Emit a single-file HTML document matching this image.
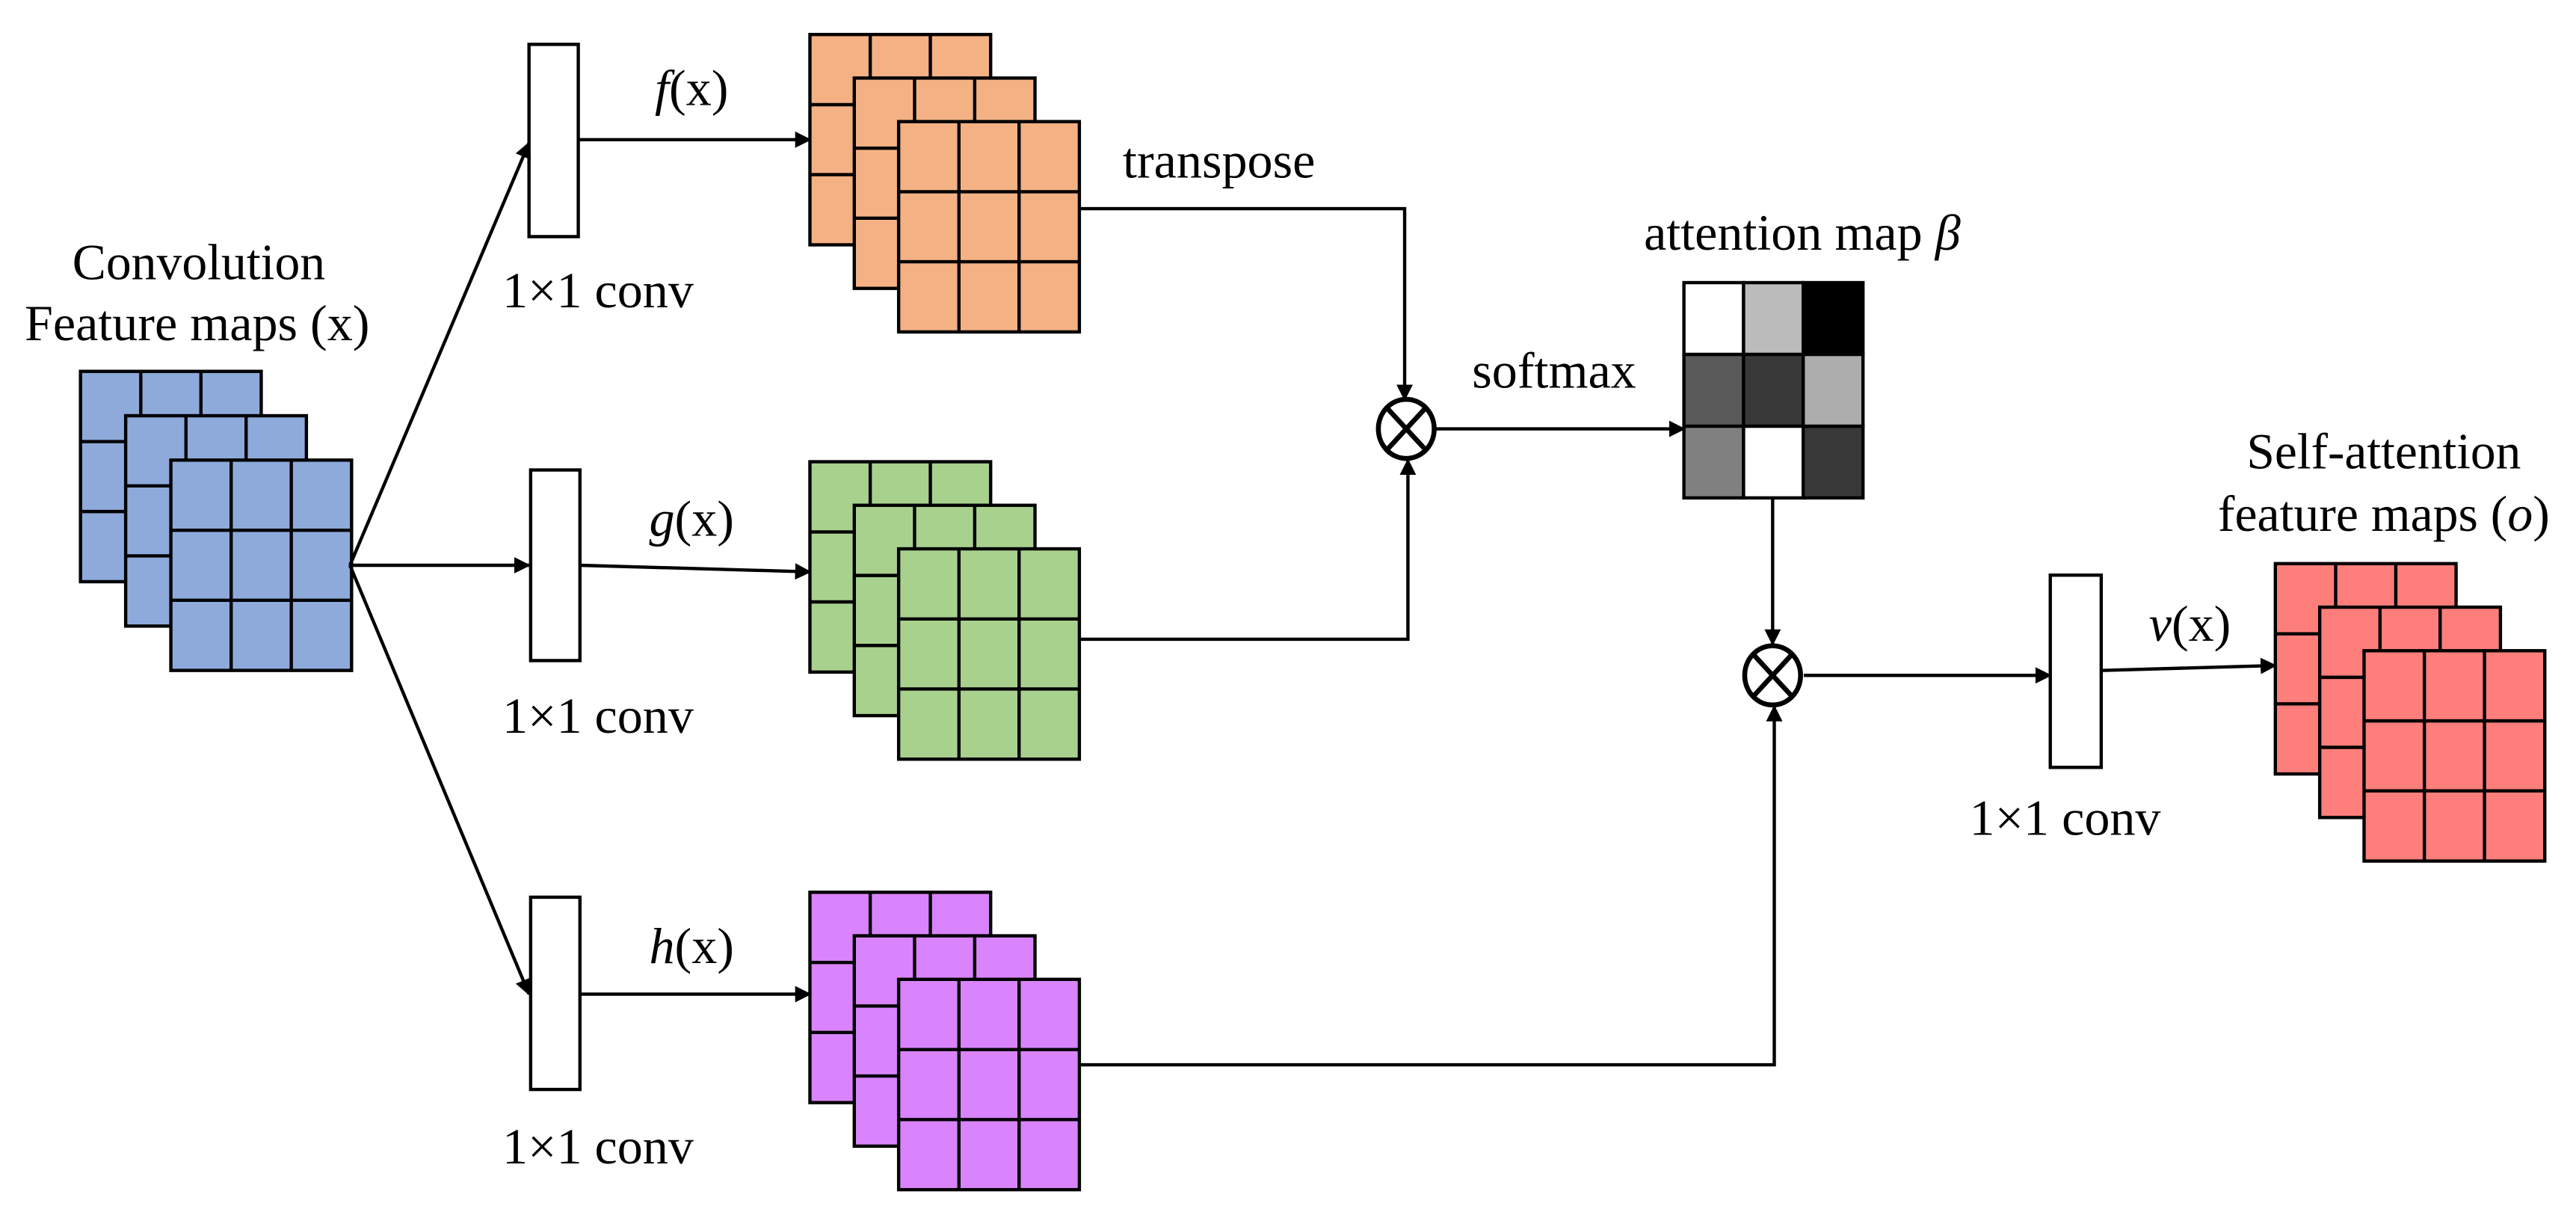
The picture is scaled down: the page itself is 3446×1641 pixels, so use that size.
<!DOCTYPE html>
<html><head><meta charset="utf-8"><style>html,body{margin:0;padding:0;background:#fff}svg{display:block}text{font-family:"Liberation Serif",serif;fill:#000}</style></head><body>
<svg width="3446" height="1641" viewBox="0 0 1568 746.7" preserveAspectRatio="none" xmlns="http://www.w3.org/2000/svg">
<defs>
<marker id="a" markerWidth="10" markerHeight="10" refX="9" refY="5" orient="auto" markerUnits="userSpaceOnUse"><path d="M0,0 L10,5 L0,10 z" fill="#000"/></marker>
<g id="grid"><rect x="0" y="0" width="110" height="128" stroke="#000" stroke-width="2"/><path d="M36.7,0V128M73.3,0V128M0,42.7H110M0,85.3H110" stroke="#000" stroke-width="2" fill="none"/></g>
</defs>
<g fill="#8eaadb"><use href="#grid" x="49" y="226"/><use href="#grid" x="76.5" y="253"/><use href="#grid" x="104" y="280"/></g>
<g fill="#f4b183"><use href="#grid" x="493" y="21"/><use href="#grid" x="520" y="47.5"/><use href="#grid" x="547" y="74"/></g>
<g fill="#a9d18e"><use href="#grid" x="493" y="281"/><use href="#grid" x="520" y="307.5"/><use href="#grid" x="547" y="334"/></g>
<g fill="#d984fc"><use href="#grid" x="493" y="543"/><use href="#grid" x="520" y="569.5"/><use href="#grid" x="547" y="596"/></g>
<g fill="#fe7e7b"><use href="#grid" x="1385" y="343"/><use href="#grid" x="1412" y="369.5"/><use href="#grid" x="1439" y="396"/></g>
<g fill="#fff" stroke="#000" stroke-width="2">
<rect x="322" y="27" width="30" height="117"/><rect x="323" y="286" width="30" height="116"/><rect x="323" y="546" width="30" height="117"/><rect x="1248" y="350" width="31" height="117"/>
</g>
<g stroke="#000" stroke-width="2">
<rect x="1025" y="172" width="36.3" height="43.7" fill="#fff"/><rect x="1061.3" y="172" width="36.3" height="43.7" fill="#bbb"/><rect x="1097.6" y="172" width="36.4" height="43.7" fill="#000"/>
<rect x="1025" y="215.7" width="36.3" height="43.7" fill="#595959"/><rect x="1061.3" y="215.7" width="36.3" height="43.7" fill="#383838"/><rect x="1097.6" y="215.7" width="36.4" height="43.7" fill="#adadad"/>
<rect x="1025" y="259.4" width="36.3" height="43.6" fill="#808080"/><rect x="1061.3" y="259.4" width="36.3" height="43.6" fill="#fff"/><rect x="1097.6" y="259.4" width="36.4" height="43.6" fill="#383838"/>
</g>
<g stroke="#000" stroke-width="2" fill="none" marker-end="url(#a)">
<line x1="213" y1="344" x2="322" y2="87"/><line x1="213" y1="344" x2="322" y2="344"/><line x1="213" y1="344" x2="322" y2="605"/>
<line x1="352" y1="85" x2="493" y2="85"/><line x1="353" y1="344" x2="493" y2="348"/><line x1="353" y1="605" x2="493" y2="605"/>
<polyline points="657,127 855,127 855,243"/><polyline points="657,389 857,389 857,280"/>
<line x1="874" y1="261" x2="1025" y2="261"/>
<line x1="1079" y1="303" x2="1079" y2="392"/><polyline points="657,648 1080,648 1080,430"/>
<line x1="1098" y1="411" x2="1248" y2="411"/><line x1="1279" y1="408" x2="1385" y2="405"/>
</g>
<g stroke="#000" stroke-width="3" fill="#fff">
<ellipse cx="856" cy="261" rx="17" ry="18"/><path d="M844,248L868,274M868,248L844,274" fill="none"/>
<ellipse cx="1079" cy="411" rx="17" ry="18"/><path d="M1067,398L1091,424M1091,398L1067,424" fill="none"/>
</g>
<g font-size="31" text-anchor="middle">
<text x="121" y="170" textLength="154" lengthAdjust="spacingAndGlyphs">Convolution</text><text x="120" y="207" textLength="210" lengthAdjust="spacingAndGlyphs">Feature maps (x)</text>
<text x="364" y="187">1×1 conv</text><text x="364" y="446">1×1 conv</text><text x="364" y="708">1×1 conv</text><text x="1257" y="508">1×1 conv</text>
<text x="421" y="64"><tspan font-style="italic">f</tspan>(x)</text>
<text x="421" y="326"><tspan font-style="italic">g</tspan>(x)</text>
<text x="421" y="586"><tspan font-style="italic">h</tspan>(x)</text>
<text x="1333" y="390"><tspan font-style="italic">v</tspan>(x)</text>
<text x="742" y="108">transpose</text>
<text x="946" y="236">softmax</text>
<text x="1097" y="152">attention map <tspan font-style="italic">β</tspan></text>
<text x="1451" y="285" textLength="167" lengthAdjust="spacingAndGlyphs">Self-attention</text><text x="1451" y="323" textLength="202" lengthAdjust="spacingAndGlyphs">feature maps (<tspan font-style="italic">o</tspan>)</text>
</g>
</svg>
</body></html>
